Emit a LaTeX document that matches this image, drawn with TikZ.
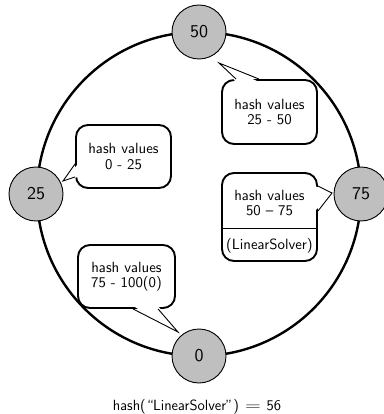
\documentclass[tikz,border=0pt]{standalone}
\usepackage{graphicx}
\usetikzlibrary{calc}
\font\calloutfont=cmss10 at 14.8pt
\font\peerfont=cmss10 at 18pt
\font\capfont=cmss12 at 14.8pt
\newcommand\calloutstyle{\calloutfont\baselineskip=15.5pt\relax}
\begin{document}
\begin{tikzpicture}[x=1pt,y=-1pt,
  font=\calloutstyle,
  ring/.style={line width=2.4pt},
  peer/.style={circle, draw, line width=0.9pt, fill=black!25, minimum size=54pt, inner sep=0pt, font=\peerfont},
  bubble/.style={draw, line width=1.9pt, rounded corners=12pt, fill=white, align=center, inner sep=0pt},
  tail/.style={line width=0.9pt, line join=miter}
]
\useasboundingbox (0,0) rectangle (383,414);

% the hash ring
\node[circle, minimum size=324pt, inner sep=0pt] (ring) at (199,194) {};
\draw[ring] (ring.center) circle[radius=162pt];

% speech bubbles with their ranges
\node[bubble, minimum width=95pt, minimum height=64pt] (c1) at (269.5,112) {hash values\\25 - 50};
\node[bubble, minimum width=95pt, minimum height=63pt] (c2) at (123.5,156.5) {hash values\\0 - 25};
\node[bubble, minimum width=95pt, minimum height=88pt] (c3) at (269.5,217) {};
\node[bubble, minimum width=97pt, minimum height=63pt] (c4) at (126.5,276.5) {hash values\\75 - 100(0)};

% two-part bubble contents
\node (c3top) at (269.5,203) [align=center] {hash values\\50 -- 75};
\node (c3bot) at (269.5,246) {(LinearSolver)};
\draw[line width=1pt] (c3.west |- 0,228) -- (c3.east |- 0,228);

% peers on the ring
\node[peer] (p50) at (199,32) {50};
\node[peer] (p25) at (36,194) {25};
\node[peer] (p75) at (361,194) {75};
\node[peer] (p0)  at (199,356) {0};

% bubble tails
\coordinate (t1) at (219,63);
\coordinate (a1) at ($(c1.north west)+(15,0)$);
\coordinate (b1) at ($(c1.north west)+(38,0)$);
\fill[white] ($(a1)+(0,3)$) -- (t1) -- ($(b1)+(0,3)$) -- cycle;
\draw[tail] (a1) -- (t1) -- (b1);

\coordinate (t2) at (63,181);
\coordinate (a2) at ($(c2.south west)+(0,-25)$);
\coordinate (b2) at ($(c2.south west)+(0,-12)$);
\fill[white] ($(a2)+(3,0)$) -- (t2) -- ($(b2)+(3,0)$) -- cycle;
\draw[tail] (a2) -- (t2) -- (b2);

\coordinate (t3) at (332,193);
\coordinate (a3) at ($(c3.north east)+(0,14)$);
\coordinate (b3) at ($(c3.north east)+(0,39)$);
\fill[white] ($(a3)+(-3,0)$) -- (t3) -- ($(b3)+(-3,0)$) -- cycle;
\draw[tail] (a3) -- (t3) -- (b3);

\coordinate (t4) at (178,332);
\coordinate (a4) at ($(c4.south west)+(56,0)$);
\coordinate (b4) at ($(c4.south west)+(81,0)$);
\fill[white] ($(a4)+(0,-3)$) -- (t4) -- ($(b4)+(0,-3)$) -- cycle;
\draw[tail] (a4) -- (t4) -- (b4);

% caption
\node[font=\capfont, anchor=base] (cap) at (197,410) {hash(``LinearSolver'')\hspace{0.4em}\scalebox{1.4}[1]{=}\hspace{0.4em}56};
\end{tikzpicture}
\end{document}
